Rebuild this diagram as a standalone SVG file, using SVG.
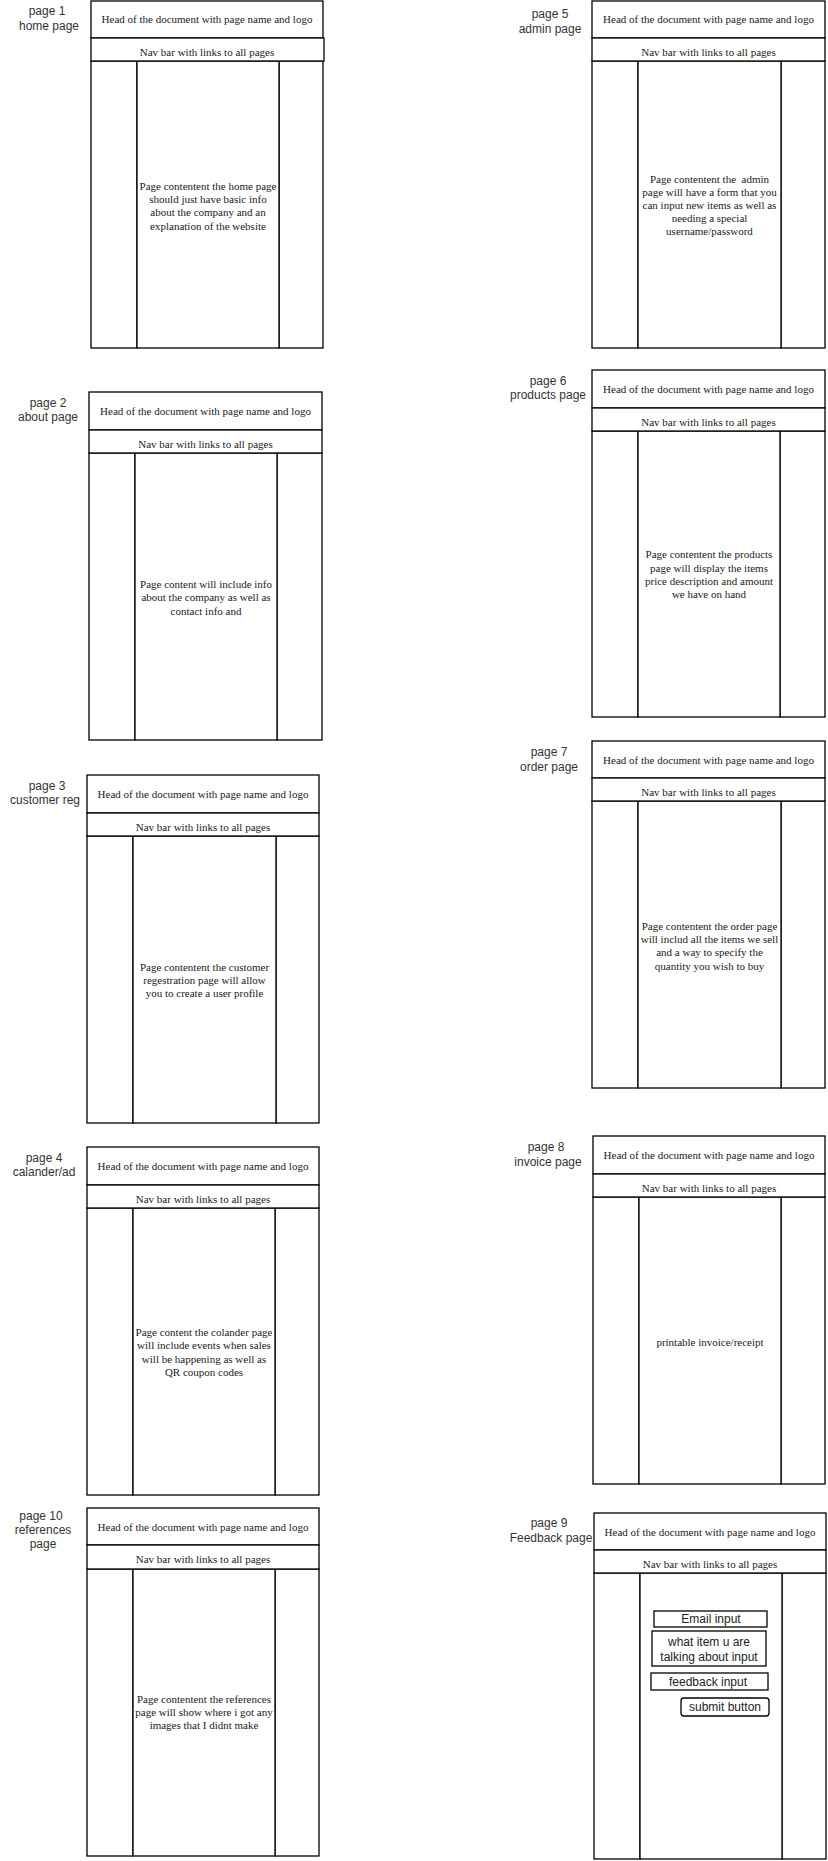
<svg xmlns="http://www.w3.org/2000/svg" width="828" height="1861" viewBox="0 0 828 1861">
<style>
.bx{fill:#fff;stroke:#000;stroke-width:1.3}
.lbl{font-family:"Liberation Sans",Arial,sans-serif;font-size:12px;fill:#333;text-anchor:middle}
.sr{font-family:"Liberation Serif","Times New Roman",serif;font-size:11px;fill:#1a1a1a;text-anchor:middle}
.fm{font-family:"Liberation Sans",Arial,sans-serif;font-size:12px;fill:#222;text-anchor:middle}
</style>
<rect width="828" height="1861" fill="#fff"/>
<g id="connectors"/>

<g id="page1">
  <g id="p1-label"><text class="lbl" x="47" y="15">page 1</text><text class="lbl" x="49" y="30">home page</text></g>
  <g id="p1-left"><rect class="bx" x="91" y="61" width="46" height="287"/></g>
  <g id="p1-right"><rect class="bx" x="279" y="61" width="44" height="287"/></g>
  <g id="p1-content"><rect class="bx" x="137" y="61" width="142" height="287"/>
    <text class="sr" x="208" y="190">Page contentent the home page</text>
    <text class="sr" x="208" y="203">should just have basic info</text>
    <text class="sr" x="208" y="216">about the company and an</text>
    <text class="sr" x="208" y="230">explanation of the website</text></g>
  <g id="p1-head"><rect class="bx" x="91" y="1" width="232" height="37"/><text class="sr" x="207" y="23">Head of the document with page name and logo</text></g>
  <g id="p1-nav"><rect class="bx" x="91" y="38" width="233" height="23"/><text class="sr" x="207" y="56">Nav bar with links to all pages</text></g>
</g>

<g id="page2">
  <g id="p2-label"><text class="lbl" x="48" y="407">page 2</text><text class="lbl" x="48" y="421">about page</text></g>
  <g id="p2-left"><rect class="bx" x="89" y="453" width="46" height="287"/></g>
  <g id="p2-right"><rect class="bx" x="277" y="453" width="45" height="287"/></g>
  <g id="p2-content"><rect class="bx" x="135" y="453" width="142" height="287"/>
    <text class="sr" x="206" y="588">Page content will include info</text>
    <text class="sr" x="206" y="601">about the company as well as</text>
    <text class="sr" x="206" y="615">contact info and</text></g>
  <g id="p2-head"><rect class="bx" x="89" y="392" width="233" height="38"/><text class="sr" x="205.5" y="415">Head of the document with page name and logo</text></g>
  <g id="p2-nav"><rect class="bx" x="89" y="430" width="233" height="23"/><text class="sr" x="205.5" y="448">Nav bar with links to all pages</text></g>
</g>

<g id="page3">
  <g id="p3-label"><text class="lbl" x="47" y="790">page 3</text><text class="lbl" x="45" y="804">customer reg</text></g>
  <g id="p3-left"><rect class="bx" x="87" y="836" width="46" height="287"/></g>
  <g id="p3-right"><rect class="bx" x="276" y="836" width="43" height="287"/></g>
  <g id="p3-content"><rect class="bx" x="133" y="836" width="143" height="287"/>
    <text class="sr" x="204.5" y="971">Page contentent the customer</text>
    <text class="sr" x="204.5" y="984">regestration page will allow</text>
    <text class="sr" x="204.5" y="997">you to create a user profile</text></g>
  <g id="p3-head"><rect class="bx" x="87" y="775" width="232" height="38"/><text class="sr" x="203" y="798">Head of the document with page name and logo</text></g>
  <g id="p3-nav"><rect class="bx" x="87" y="813" width="232" height="23"/><text class="sr" x="203" y="831">Nav bar with links to all pages</text></g>
</g>

<g id="page4">
  <g id="p4-label"><text class="lbl" x="44" y="1162">page 4</text><text class="lbl" x="44" y="1176">calander/ad</text></g>
  <g id="p4-left"><rect class="bx" x="87" y="1208" width="46" height="287"/></g>
  <g id="p4-right"><rect class="bx" x="275" y="1208" width="44" height="287"/></g>
  <g id="p4-content"><rect class="bx" x="133" y="1208" width="142" height="287"/>
    <text class="sr" x="204" y="1336">Page content the colander page</text>
    <text class="sr" x="204" y="1349">will include events when sales</text>
    <text class="sr" x="204" y="1363">will be happening as well as</text>
    <text class="sr" x="204" y="1376">QR coupon codes</text></g>
  <g id="p4-head"><rect class="bx" x="87" y="1147" width="232" height="38"/><text class="sr" x="203" y="1170">Head of the document with page name and logo</text></g>
  <g id="p4-nav"><rect class="bx" x="87" y="1185" width="232" height="23"/><text class="sr" x="203" y="1203">Nav bar with links to all pages</text></g>
</g>

<g id="page10">
  <g id="p10-label"><text class="lbl" x="41" y="1520">page 10</text><text class="lbl" x="43" y="1534">references</text><text class="lbl" x="43" y="1548">page</text></g>
  <g id="p10-left"><rect class="bx" x="87" y="1569" width="46" height="287"/></g>
  <g id="p10-right"><rect class="bx" x="275" y="1569" width="44" height="287"/></g>
  <g id="p10-content"><rect class="bx" x="133" y="1569" width="142" height="287"/>
    <text class="sr" x="204" y="1703">Page contentent the references</text>
    <text class="sr" x="204" y="1716">page will show where i got any</text>
    <text class="sr" x="204" y="1729">images that I didnt make</text></g>
  <g id="p10-head"><rect class="bx" x="87" y="1508" width="232" height="37"/><text class="sr" x="203" y="1530.5">Head of the document with page name and logo</text></g>
  <g id="p10-nav"><rect class="bx" x="87" y="1545" width="232" height="24"/><text class="sr" x="203" y="1563">Nav bar with links to all pages</text></g>
</g>

<g id="page5">
  <g id="p5-label"><text class="lbl" x="550" y="18">page 5</text><text class="lbl" x="550" y="33">admin page</text></g>
  <g id="p5-left"><rect class="bx" x="592" y="61" width="46" height="287"/></g>
  <g id="p5-right"><rect class="bx" x="781" y="61" width="44" height="287"/></g>
  <g id="p5-content"><rect class="bx" x="638" y="61" width="143" height="287"/>
    <text class="sr" x="709.5" y="183" xml:space="preserve">Page contentent the  admin</text>
    <text class="sr" x="709.5" y="196">page will have a form that you</text>
    <text class="sr" x="709.5" y="209">can input new items as well as</text>
    <text class="sr" x="709.5" y="222">needing a special</text>
    <text class="sr" x="709.5" y="235">username/password</text></g>
  <g id="p5-head"><rect class="bx" x="592" y="1" width="233" height="37"/><text class="sr" x="708.5" y="23">Head of the document with page name and logo</text></g>
  <g id="p5-nav"><rect class="bx" x="592" y="38" width="233" height="23"/><text class="sr" x="708.5" y="56">Nav bar with links to all pages</text></g>
</g>

<g id="page6">
  <g id="p6-label"><text class="lbl" x="548" y="385">page 6</text><text class="lbl" x="548" y="399">products page</text></g>
  <g id="p6-left"><rect class="bx" x="592" y="431" width="46" height="286"/></g>
  <g id="p6-right"><rect class="bx" x="780" y="431" width="45" height="286"/></g>
  <g id="p6-content"><rect class="bx" x="638" y="431" width="142" height="286"/>
    <text class="sr" x="709" y="558">Page contentent the products</text>
    <text class="sr" x="709" y="572">page will display the items</text>
    <text class="sr" x="709" y="585">price description and amount</text>
    <text class="sr" x="709" y="598">we have on hand</text></g>
  <g id="p6-head"><rect class="bx" x="592" y="370" width="233" height="38"/><text class="sr" x="708.5" y="393">Head of the document with page name and logo</text></g>
  <g id="p6-nav"><rect class="bx" x="592" y="408" width="233" height="23"/><text class="sr" x="708.5" y="426">Nav bar with links to all pages</text></g>
</g>

<g id="page7">
  <g id="p7-label"><text class="lbl" x="549" y="756">page 7</text><text class="lbl" x="549" y="771">order page</text></g>
  <g id="p7-left"><rect class="bx" x="592" y="801" width="46" height="287"/></g>
  <g id="p7-right"><rect class="bx" x="781" y="801" width="44" height="287"/></g>
  <g id="p7-content"><rect class="bx" x="638" y="801" width="143" height="287"/>
    <text class="sr" x="709.5" y="930">Page contentent the order page</text>
    <text class="sr" x="709.5" y="943">will includ all the items we sell</text>
    <text class="sr" x="709.5" y="956">and a way to specify the</text>
    <text class="sr" x="709.5" y="970">quantity you wish to buy</text></g>
  <g id="p7-head"><rect class="bx" x="592" y="741" width="233" height="37"/><text class="sr" x="708.5" y="763.5">Head of the document with page name and logo</text></g>
  <g id="p7-nav"><rect class="bx" x="592" y="778" width="233" height="23"/><text class="sr" x="708.5" y="796">Nav bar with links to all pages</text></g>
</g>

<g id="page8">
  <g id="p8-label"><text class="lbl" x="546" y="1151">page 8</text><text class="lbl" x="548" y="1166">invoice page</text></g>
  <g id="p8-left"><rect class="bx" x="593" y="1197" width="46" height="287"/></g>
  <g id="p8-right"><rect class="bx" x="781" y="1197" width="44" height="287"/></g>
  <g id="p8-content"><rect class="bx" x="639" y="1197" width="142" height="287"/>
    <text class="sr" x="710" y="1346">printable invoice/receipt</text></g>
  <g id="p8-head"><rect class="bx" x="593" y="1136" width="232" height="38"/><text class="sr" x="709" y="1159">Head of the document with page name and logo</text></g>
  <g id="p8-nav"><rect class="bx" x="593" y="1174" width="232" height="23"/><text class="sr" x="709" y="1192">Nav bar with links to all pages</text></g>
</g>

<g id="page9">
  <g id="p9-label"><text class="lbl" x="549" y="1527">page 9</text><text class="lbl" x="551" y="1542">Feedback page</text></g>
  <g id="p9-left"><rect class="bx" x="594" y="1573" width="46" height="286"/></g>
  <g id="p9-right"><rect class="bx" x="782" y="1573" width="44" height="286"/></g>
  <g id="p9-content"><rect class="bx" x="640" y="1573" width="142" height="286"/></g>
  <g id="p9-head"><rect class="bx" x="594" y="1513" width="232" height="37"/><text class="sr" x="710" y="1535.5">Head of the document with page name and logo</text></g>
  <g id="p9-nav"><rect class="bx" x="594" y="1550" width="232" height="23"/><text class="sr" x="710" y="1568">Nav bar with links to all pages</text></g>
  <g id="p9-email"><rect class="bx" x="654" y="1611" width="113" height="16"/><text class="fm" x="711" y="1623">Email input</text></g>
  <g id="p9-item"><rect class="bx" x="652" y="1631" width="114" height="35"/><text class="fm" x="709" y="1646">what item u are</text><text class="fm" x="709" y="1661">talking about input</text></g>
  <g id="p9-feedback"><rect class="bx" x="651" y="1673" width="117" height="17"/><text class="fm" x="708" y="1686">feedback input</text></g>
  <g id="p9-submit"><rect class="bx" x="681" y="1698" width="88" height="18" rx="3"/><text class="fm" x="725" y="1711">submit button</text></g>
</g>
</svg>
